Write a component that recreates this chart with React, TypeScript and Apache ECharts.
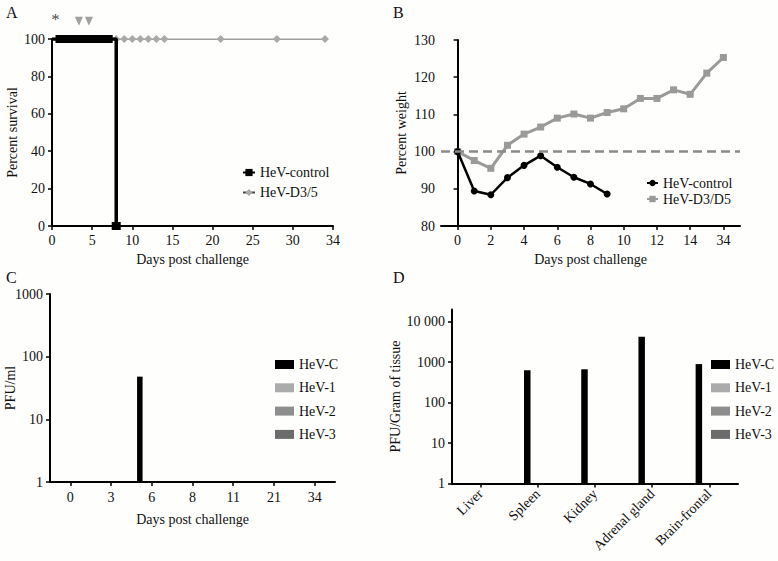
import React, { useEffect, useRef } from 'react';
import * as echarts from 'echarts';

// ---------- Panel A: survival ----------
const survivalControlDays = [1, 2, 3, 4, 5, 6, 7, 8];
const survivalControlValues = [100, 100, 100, 100, 100, 100, 100, 0];
const survivalVaccDays = [1, 2, 3, 4, 5, 6, 7, 8, 9, 10, 11, 12, 13, 14, 21, 28, 34];
const survivalVaccValues = [100, 100, 100, 100, 100, 100, 100, 100, 100, 100, 100, 100, 100, 100, 100, 100, 100];
const survivalXTicks = [0, 5, 10, 15, 20, 25, 30, 35];
const survivalXLabels = ['0', '5', '10', '15', '20', '25', '30', '34'];
const doseMarkDays = [3.35, 4.6];
const doseMarkLevel = 109.5;
const starDay = 0.45;
const starLevel = 110.5;

// ---------- Panel B: weight ----------
const weightPositions = [0, 1, 2, 3, 4, 5, 6, 7, 8, 9, 10, 11, 12, 13, 14, 15, 16];
const weightControl = [100, 89.4, 88.4, 93.0, 96.3, 98.9, 95.8, 93.1, 91.3, 88.6];
const weightVacc = [100, 97.6, 95.5, 101.7, 104.7, 106.6, 109.0, 110.1, 109.0, 110.5, 111.5, 114.3, 114.3, 116.6, 115.4, 121.1, 125.3];
const weightTickPositions = [0, 2, 4, 6, 8, 10, 12, 14, 16];
const weightTickLabels = ['0', '2', '4', '6', '8', '10', '12', '14', '34'];
const weightBaseline = 100;

// ---------- Panel C: blood titres ----------
const bloodDays = ['0', '3', '6', '8', '11', '21', '34'];
const bloodHeVC = [null, null, 48, null, null, null, null];
const bloodHeV1 = [null, null, null, null, null, null, null];
const bloodHeV2 = [null, null, null, null, null, null, null];
const bloodHeV3 = [null, null, null, null, null, null, null];

// ---------- Panel D: tissue titres ----------
const tissues = ['Liver', 'Spleen', 'Kidney', 'Adrenal gland', 'Brain-frontal'];
const tissueHeVC = [null, 630, 665, 4270, 895];
const tissueHeV1 = [null, null, null, null, null];
const tissueHeV2 = [null, null, null, null, null];
const tissueHeV3 = [null, null, null, null, null];
const tissueTickExponents = [0, 1, 2, 3, 4];
const tissueTickLabels = ['1', '10', '100', '1000', '10 000'];

const groupNames = ['HeV-C', 'HeV-1', 'HeV-2', 'HeV-3'];
const groupColors = ['#000000', '#ababab', '#8e8e8e', '#6c6c6c'];

const FONT = '"Liberation Serif", "Times New Roman", serif';
const TXT = '#111';
const FS = 14;

const axisLine = { show: true, lineStyle: { color: '#000', width: 2 } };
const axisTick = { show: true, length: 4, lineStyle: { color: '#000', width: 1.5 } };
const labelStyle = { fontSize: FS, fontFamily: FONT, color: TXT };
const nameStyle = { fontSize: FS, fontFamily: FONT, color: TXT };

export default function App() {
  const ref = useRef<HTMLDivElement>(null);
  useEffect(() => {
    if (!ref.current) return;
    const chart = echarts.init(ref.current, undefined, { renderer: 'svg' });

    const pairs = (xs: number[], ys: (number | null)[]) => xs.map((x, i) => [x, ys[i]]);

    const option: any = {
      animation: false,
      backgroundColor: '#fefefc',
      textStyle: { fontFamily: FONT },
      graphic: [
        { type: 'text', left: 6, top: 4, style: { text: 'A', font: `16px ${FONT}`, fill: TXT } },
        { type: 'text', left: 393, top: 4, style: { text: 'B', font: `16px ${FONT}`, fill: TXT } },
        { type: 'text', left: 6, top: 269, style: { text: 'C', font: `16px ${FONT}`, fill: TXT } },
        { type: 'text', left: 393, top: 269, style: { text: 'D', font: `16px ${FONT}`, fill: TXT } },
      ],
      grid: [
        { left: 52, top: 39, width: 281, height: 187, outerBoundsMode: 'none', containLabel: false },
        { left: 441, top: 40, width: 299, height: 186, outerBoundsMode: 'none', containLabel: false },
        { left: 50, top: 294, width: 285, height: 188, outerBoundsMode: 'none', containLabel: false },
        { left: 452, top: 309.5, width: 286, height: 174, outerBoundsMode: 'none', containLabel: false },
      ],
      legend: [
        {
          left: 242, top: 165.5, padding: 0, orient: 'vertical', itemGap: 6, itemWidth: 12, itemHeight: 9,
          textStyle: { ...labelStyle }, data: ['HeV-control', 'HeV-D3/5'],
        },
        {
          left: 646, top: 176, padding: 0, orient: 'vertical', itemGap: 2, itemWidth: 11, itemHeight: 8,
          textStyle: { ...labelStyle }, data: ['B:HeV-control', 'B:HeV-D3/D5'],
          formatter: (n: string) => n.replace('B:', ''),
        },
        {
          left: 275, top: 357.5, padding: 0, orient: 'vertical', itemGap: 9.3, itemWidth: 19, itemHeight: 9, icon: 'rect',
          textStyle: { ...labelStyle }, data: groupNames,
        },
        {
          left: 711, top: 357.5, padding: 0, orient: 'vertical', itemGap: 9.3, itemWidth: 19, itemHeight: 9, icon: 'rect',
          textStyle: { ...labelStyle }, data: groupNames.map((g) => 'D:' + g),
          formatter: (n: string) => n.replace('D:', ''),
        },
      ],
      xAxis: [
        {
          gridIndex: 0, type: 'value', min: 0, max: 35, interval: 5,
          axisLine, axisTick, splitLine: { show: false },
          axisLabel: {
            ...labelStyle, margin: 7,
            formatter: (v: number) => {
              const i = survivalXTicks.indexOf(v);
              return i >= 0 ? survivalXLabels[i] : '';
            },
          },
          name: 'Days post challenge', nameLocation: 'middle', nameGap: 26, nameTextStyle: nameStyle,
        },
        {
          gridIndex: 1, type: 'value', min: -1, max: 17,
          axisLine, splitLine: { show: false },
          axisTick: { ...axisTick, customValues: weightTickPositions },
          axisLabel: {
            ...labelStyle, margin: 7, customValues: weightTickPositions,
            formatter: (v: number) => {
              const i = weightTickPositions.indexOf(v);
              return i >= 0 ? weightTickLabels[i] : '';
            },
          },
          name: 'Days post challenge', nameLocation: 'middle', nameGap: 26, nameTextStyle: nameStyle,
        },
        {
          gridIndex: 2, type: 'category', data: bloodDays,
          axisLine, axisTick: { ...axisTick, alignWithLabel: true },
          axisLabel: { ...labelStyle, margin: 8 },
          name: 'Days post challenge', nameLocation: 'middle', nameGap: 30, nameTextStyle: nameStyle,
        },
        {
          gridIndex: 3, type: 'category', data: tissues,
          axisLine, axisTick: { ...axisTick, alignWithLabel: true },
          axisLabel: { ...labelStyle, margin: 8, rotate: 45, interval: 0 },
        },
      ],
      yAxis: [
        {
          gridIndex: 0, type: 'value', min: 0, max: 100, interval: 20, position: 'left',
          axisLine, axisTick, splitLine: { show: false },
          axisLabel: { ...labelStyle, margin: 7 },
          name: 'Percent survival', nameLocation: 'middle', nameGap: 33, nameTextStyle: nameStyle,
        },
        {
          gridIndex: 1, type: 'value', min: 80, max: 130, interval: 10, position: 'left',
          axisLine, axisTick, splitLine: { show: false },
          axisLabel: { ...labelStyle, margin: 6 },
          name: 'Percent weight', nameLocation: 'middle', nameGap: 33, nameTextStyle: nameStyle,
        },
        {
          gridIndex: 2, type: 'log', logBase: 10, min: 1, max: 1000, position: 'left',
          axisLine, axisTick, splitLine: { show: false },
          axisLabel: { ...labelStyle, margin: 7, formatter: (v: number) => String(Math.round(v)) },
          name: 'PFU/ml', nameLocation: 'middle', nameGap: 33, nameMoveOverlap: false, nameTextStyle: nameStyle,
        },
        {
          gridIndex: 3, type: 'log', logBase: 10, min: 1, max: 20000, show: false, position: 'left',
        },
        {
          gridIndex: 3, type: 'value', min: 0, max: Math.log10(20000), position: 'left', offset: 0,
          axisLine, splitLine: { show: false },
          axisTick: { ...axisTick, customValues: tissueTickExponents },
          axisLabel: {
            ...labelStyle, margin: 7, customValues: tissueTickExponents,
            formatter: (v: number) => {
              const i = tissueTickExponents.indexOf(v);
              return i >= 0 ? tissueTickLabels[i] : '';
            },
          },
          name: 'PFU/Gram of tissue', nameLocation: 'middle', nameGap: 48, nameTextStyle: nameStyle,
        },
      ],
      series: [
        // Panel A
        {
          name: 'HeV-D3/5', type: 'line', xAxisIndex: 0, yAxisIndex: 0, z: 2,
          data: pairs(survivalVaccDays, survivalVaccValues),
          symbol: 'diamond', symbolSize: 8,
          itemStyle: { color: '#a9a9a9' },
          lineStyle: { color: '#444', width: 1.2 },
        },
        {
          name: 'HeV-control', type: 'line', xAxisIndex: 0, yAxisIndex: 0, z: 3, step: 'end',
          data: [{ value: [0, 100], symbol: 'none' }, ...pairs(survivalControlDays, survivalControlValues)],
          symbol: 'rect', symbolSize: [9, 8],
          itemStyle: { color: '#000' },
          lineStyle: { color: '#000', width: 3.5 },
        },
        {
          name: 'doses', type: 'scatter', xAxisIndex: 0, yAxisIndex: 0, clip: false,
          data: doseMarkDays.map((d) => [d, doseMarkLevel]),
          symbol: 'triangle', symbolRotate: 180, symbolSize: [8, 9],
          itemStyle: { color: '#8a8a8a' },
        },
        {
          name: 'star', type: 'scatter', xAxisIndex: 0, yAxisIndex: 0, clip: false,
          data: [[starDay, starLevel]], symbolSize: 0,
          label: { show: true, position: 'inside', formatter: '*', fontSize: 17, fontFamily: FONT, color: '#111' },
        },
        // Panel B
        {
          name: 'B:HeV-D3/D5', type: 'line', xAxisIndex: 1, yAxisIndex: 1, z: 2,
          data: pairs(weightPositions, weightVacc),
          symbol: 'rect', symbolSize: 7,
          itemStyle: { color: '#9a9a9a' },
          lineStyle: { color: '#9a9a9a', width: 3 },
          markLine: {
            silent: true, symbol: ['none', 'none'], label: { show: false },
            lineStyle: { type: [9, 5], color: '#8a8a8a', width: 2.5 },
            data: [{ yAxis: weightBaseline }],
          },
        },
        {
          name: 'B:HeV-control', type: 'line', xAxisIndex: 1, yAxisIndex: 1, z: 3,
          data: pairs(weightPositions.slice(0, weightControl.length), weightControl),
          symbol: 'circle', symbolSize: 7,
          itemStyle: { color: '#000' },
          lineStyle: { color: '#000', width: 2.5 },
        },
        // Panel C
        ...[bloodHeVC, bloodHeV1, bloodHeV2, bloodHeV3].map((d, i) => ({
          name: groupNames[i], type: 'bar', xAxisIndex: 2, yAxisIndex: 2,
          data: d.map((v) => (v == null ? '-' : v)),
          barWidth: 5.5, barGap: '45%',
          itemStyle: { color: groupColors[i] },
        })),
        // Panel D
        ...[tissueHeVC, tissueHeV1, tissueHeV2, tissueHeV3].map((d, i) => ({
          name: 'D:' + groupNames[i], type: 'bar', xAxisIndex: 3, yAxisIndex: 3,
          data: d.map((v) => (v == null ? '-' : v)),
          barWidth: 6.5, barGap: '8%',
          itemStyle: { color: groupColors[i] },
        })),
      ],
    };

    chart.setOption(option);
    return () => chart.dispose();
  }, []);

  return (
    <div
      ref={ref}
      style={{ position: 'fixed', left: 0, top: 0, width: 778, height: 561 }}
    />
  );
}
